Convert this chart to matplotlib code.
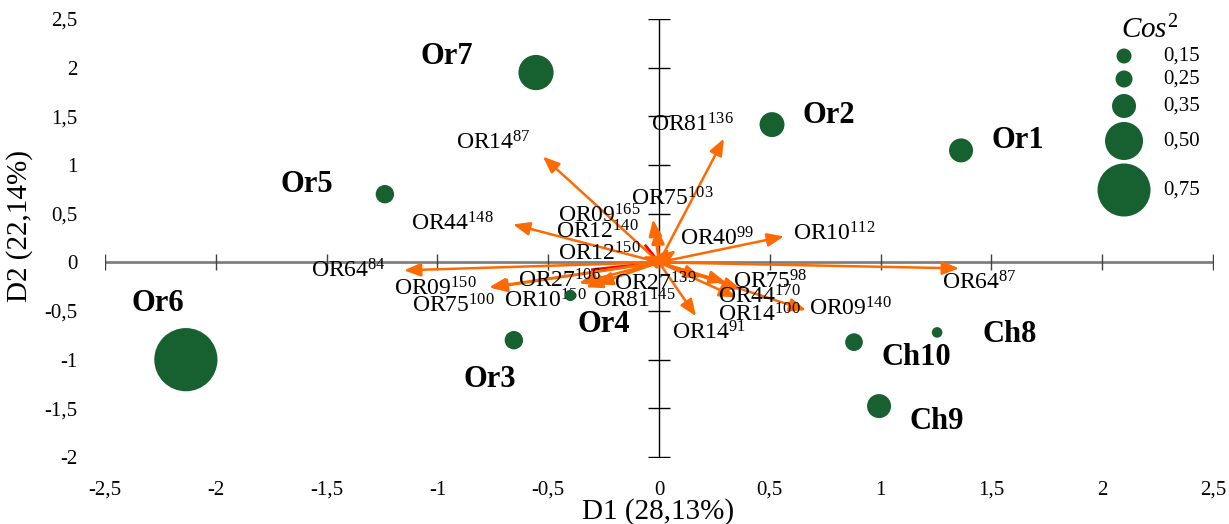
import matplotlib
matplotlib.use('agg')
import matplotlib.pyplot as plt
import numpy as np

plt.rcParams['font.family'] = ['Liberation Serif', 'DejaVu Serif']
plt.rcParams['mathtext.fontset'] = 'custom'
plt.rcParams['mathtext.rm'] = 'Liberation Serif'
plt.rcParams['mathtext.it'] = 'Liberation Serif:italic'
plt.rcParams['mathtext.bf'] = 'Liberation Serif:bold'

# individuals (scores on D1 / D2) and their cos2
ind_names = ['Or1', 'Or2', 'Or3', 'Or4', 'Or5', 'Or6', 'Or7', 'Ch8', 'Ch9', 'Ch10']
ind_x = [1.363, 0.51, -0.655, -0.40, -1.237, -2.135, -0.555, 1.255, 0.993, 0.88]
ind_y = [1.15, 1.415, -0.80, -0.34, 0.70, -1.00, 1.95, -0.72, -1.477, -0.82]
ind_cos2 = [0.35, 0.36, 0.27, 0.10, 0.27, 0.92, 0.47, 0.09, 0.35, 0.26]
ind_lab_x = [1.499, 0.648, -0.880, -0.366, -1.706, -2.379, -1.075, 1.458, 1.129, 1.002]
ind_lab_y = [1.251, 1.508, -1.208, -0.636, 0.800, -0.421, 2.113, -0.738, -1.631, -0.974]

# variables (alleles) loadings
var_loc = ['OR14', 'OR81', 'OR44', 'OR64', 'OR09', 'OR75', 'OR27', 'OR10', 'OR81',
           'OR09', 'OR12', 'OR12', 'OR75', 'OR40', 'OR10', 'OR64', 'OR27', 'OR75',
           'OR44', 'OR14', 'OR09', 'OR14']
var_allele = ['87', '136', '148', '84', '150', '100', '106', '150', '145',
              '165', '140', '150', '103', '99', '112', '87', '139', '98',
              '170', '100', '140', '91']
var_x = [-0.524, 0.293, -0.659, -1.151, -0.767, -0.760, -0.361, -0.330, -0.284,
         -0.027, -0.009, -0.075, 0.077, 0.045, 0.564, 1.354, 0.190, 0.302,
         0.370, 0.348, 0.664, 0.167]
var_y = [1.087, 1.272, 0.390, -0.082, -0.256, -0.262, -0.215, -0.256, -0.226,
         0.441, 0.359, 0.060, 0.123, 0.144, 0.267, -0.062, -0.154, -0.205,
         -0.277, -0.359, -0.492, -0.554]
var_lab_x = [-0.916, -0.036, -1.120, -1.571, -1.196, -1.115, -0.637, -0.700, -0.298,
             -0.456, -0.465, -0.456, -0.126, 0.095, 0.605, 1.278, -0.203, 0.334,
             0.266, 0.266, 0.677, 0.059]
var_lab_y = [1.231, 1.415, 0.390, -0.092, -0.277, -0.451, -0.195, -0.400, -0.400,
             0.482, 0.308, 0.082, 0.656, 0.236, 0.297, -0.215, -0.226, -0.205,
             -0.359, -0.544, -0.482, -0.728]

# two faint red variables partly hidden behind the orange ones
red_x = [-0.30, -0.06]
red_y = [-0.075, 0.17]

legend_cos2 = [0.15, 0.25, 0.35, 0.50, 0.75]
legend_labels = ['0,15', '0,25', '0,35', '0,50', '0,75']

ticks_x = np.arange(-2.5, 2.51, 0.5)
ticks_y = np.arange(-2.0, 2.51, 0.5)

green = '#17602f'
orange = '#ff6a00'


def radius_px(c):
    return np.interp(c, [0, 0.15, 0.25, 0.35, 0.5, 0.75, 1.0],
                     [2, 7.5, 8.5, 12, 19, 26.5, 34])


def marker_area(c):
    return (2 * radius_px(np.asarray(c)) * 0.72) ** 2


fig = plt.figure(figsize=(12.29, 5.24), dpi=100)
ax = fig.add_axes([105 / 1229, 67 / 524, 1108 / 1229, 438 / 524])
ax.set_xlim(-2.5, 2.5)
ax.set_ylim(-2.0, 2.5)
for s in ax.spines.values():
    s.set_visible(False)

# axes through the origin
ax.plot([-2.5, 2.5], [0, 0], color='#808080', lw=2, zorder=1)
ax.plot([0, 0], [-2.0, 2.5], color='black', lw=1, zorder=1)
ax.plot(ticks_x, np.zeros_like(ticks_x), ls='none', marker='|', ms=12,
        mew=1, color='#404040', zorder=1)
ax.plot(np.zeros_like(ticks_y), ticks_y, ls='none', marker='_', ms=16,
        mew=1, color='black', zorder=1)

def fmt(v):
    s = ('%g' % v).replace('.', ',')
    return s

ax.set_xticks(ticks_x)
ax.set_xticklabels([fmt(v) for v in ticks_x])
ax.set_yticks(ticks_y)
ax.set_yticklabels([fmt(v) for v in ticks_y])
ax.tick_params(axis='x', length=0, pad=17, labelsize=15)
ax.tick_params(axis='y', length=0, pad=20, labelsize=15)

fig.text(658 / 1229, 1 - 512 / 524, 'D1 (28,13%)', ha='center', va='center', fontsize=21)
fig.text(20 / 1229, 1 - 226 / 524, 'D2 (22,14%)', ha='center', va='center',
         fontsize=21, rotation=90)

# variable arrows
for rx, ry in zip(red_x, red_y):
    ax.plot([0, rx], [0, ry], color='red', lw=2, zorder=2)
for x, y in zip(var_x, var_y):
    ax.annotate('', xy=(x, y), xytext=(0, 0),
                arrowprops=dict(arrowstyle='-|>,head_length=1.0,head_width=0.4',
                                color=orange, lw=1.8, shrinkA=0, shrinkB=0),
                zorder=3)
for loc, al, lx, ly in zip(var_loc, var_allele, var_lab_x, var_lab_y):
    ax.text(lx, ly, r'$\mathrm{%s}^{\mathrm{%s}}$' % (loc, al), ha='left', va='center',
            fontsize=17, zorder=4)

# individuals
ax.scatter(ind_x, ind_y, s=marker_area(ind_cos2), color=green, zorder=5, linewidths=0)
for name, lx, ly in zip(ind_names, ind_lab_x, ind_lab_y):
    ax.text(lx, ly, name, ha='left', va='center', fontsize=22, fontweight='bold', zorder=6)

# size legend
leg_y = [(457 - py) / 438 for py in [56, 79, 106, 141, 190]]
ax.scatter([0.9197] * len(legend_cos2), leg_y, s=marker_area(legend_cos2), color=green,
           transform=ax.transAxes, clip_on=False, linewidths=0, zorder=5)
for lab, yy in zip(legend_labels, leg_y):
    ax.text(0.955, yy, lab, transform=ax.transAxes, ha='left', va='center', fontsize=15)
ax.text(0.943, 0.975, r'$\mathit{Cos}^{\mathrm{2}}$', transform=ax.transAxes,
        ha='center', va='center', fontsize=21)

fig.savefig('out.png', dpi=100)
